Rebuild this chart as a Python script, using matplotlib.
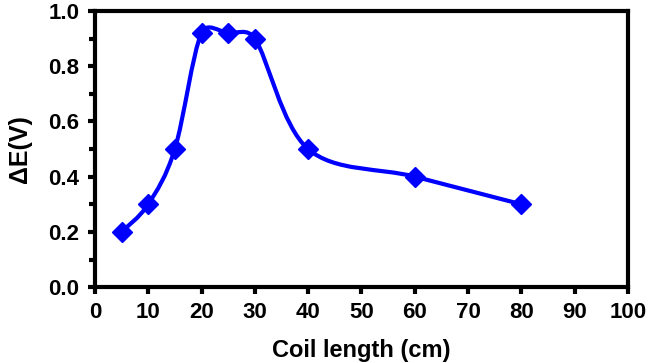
import matplotlib.pyplot as plt
from matplotlib.path import Path
from matplotlib.patches import PathPatch
from matplotlib.ticker import MultipleLocator
import numpy as np

# coil length (cm) vs delta E (V)
coilLen = [5, 10, 15, 20, 25, 30, 40, 60, 80]
deltaE = [0.2, 0.3, 0.5, 0.92, 0.92, 0.9, 0.5, 0.4, 0.3]

plt.rcParams['font.family'] = ['Liberation Sans', 'DejaVu Sans']
plt.rcParams['font.weight'] = 'bold'

fig = plt.figure(figsize=(6.5, 3.63), dpi=100)
ax = fig.add_axes([0.146, 0.209, 0.82, 0.761])
ax.set_xlim(0, 100)
ax.set_ylim(0, 1.0)

# excel style smoothed line: bezier segments, control points from neighbours,
# shortened (in pixel space) so they never reach past half a segment
sx, sy = 5.33, 276.0  # approx px per data unit, only used for the clamp
pts = np.column_stack([coilLen, deltaE]).astype(float)
scale = np.array([sx, sy])


def handle(p, a, b, seg):
    d = (b - a) / 6
    L = np.hypot(*(d * scale))
    Lseg = np.hypot(*(seg * scale))
    if L > 0.5 * Lseg:
        d = d * (0.5 * Lseg / L)
    return d


verts = [pts[0]]
codes = [Path.MOVETO]
n = len(pts)
for i in range(n - 1):
    p0 = pts[max(i - 1, 0)]
    p1 = pts[i]
    p2 = pts[i + 1]
    p3 = pts[min(i + 2, n - 1)]
    c1 = p1 + handle(p1, p0, p2, p2 - p1)
    c2 = p2 - handle(p2, p1, p3, p2 - p1)
    verts += [c1, c2, p2]
    codes += [Path.CURVE4] * 3
curve = PathPatch(Path(verts, codes), facecolor='none', edgecolor='#0000FF',
                  lw=3, capstyle='round', joinstyle='round', zorder=2)
ax.add_patch(curve)
ax.plot(coilLen, deltaE, linestyle='none', marker='D', markersize=10,
        color='#0000FF', zorder=3)

ax.xaxis.set_major_locator(MultipleLocator(10))
ax.yaxis.set_major_locator(MultipleLocator(0.2))
ax.yaxis.set_minor_locator(MultipleLocator(0.1))
ax.yaxis.set_major_formatter(plt.FormatStrFormatter('%.1f'))

for s in ax.spines.values():
    s.set_linewidth(3)
ax.tick_params(which='major', direction='out', length=5, width=3,
               labelsize=16, pad=6)
ax.tick_params(which='minor', direction='out', length=4, width=3)

ax.set_xlabel('Coil length (cm)', fontsize=17, fontweight='bold', labelpad=11)
ax.set_ylabel('ΔE(V)', fontsize=18, fontweight='bold', labelpad=12)

fig.savefig('out.png', dpi=100)
